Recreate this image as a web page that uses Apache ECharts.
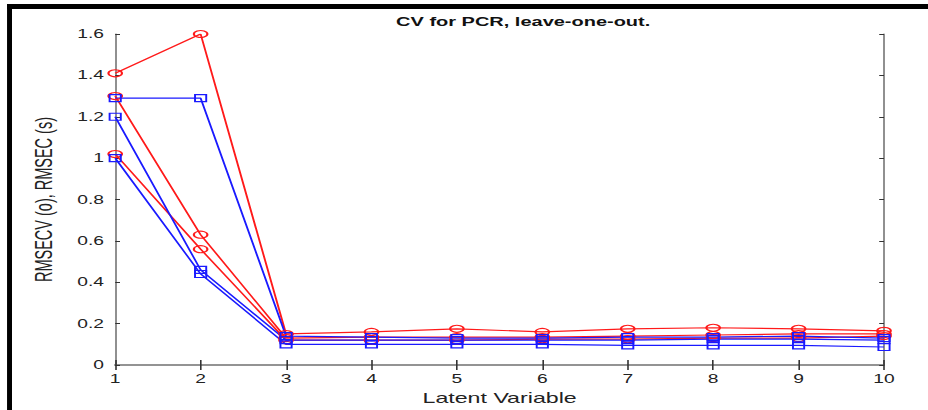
<!DOCTYPE html>
<html>
<head>
<meta charset="utf-8">
<script src="https://cdn.jsdelivr.net/npm/echarts@6/dist/echarts.min.js"></script>
<style>
  html, body { margin: 0; padding: 0; background: #fff; overflow: hidden; }
  /* 原图是被横向拉伸过的 MATLAB 图，这里先按窄宽度画，再整体横向拉伸 1.6 倍 */
  #chart { width: 580px; height: 410px; transform: scaleX(1.6); transform-origin: 0 0; }
</style>
</head>
<body>
<div id="chart"></div>
<script>
// 潜变量个数
const latentVars = ['1', '2', '3', '4', '5', '6', '7', '8', '9', '10']
// RMSECV (o) 红色圆圈
const cv1 = [1.41, 1.60, 0.15, 0.16, 0.175, 0.16, 0.175, 0.18, 0.175, 0.165]
const cv2 = [1.30, 0.63, 0.13, 0.135, 0.135, 0.135, 0.14, 0.145, 0.15, 0.15]
const cv3 = [1.02, 0.56, 0.12, 0.12, 0.12, 0.125, 0.125, 0.13, 0.13, 0.14]
// RMSEC (s) 蓝色方块
const c1 = [1.29, 1.29, 0.14, 0.135, 0.13, 0.13, 0.135, 0.135, 0.14, 0.13]
const c2 = [1.20, 0.46, 0.12, 0.12, 0.12, 0.12, 0.12, 0.125, 0.125, 0.12]
const c3 = [1.00, 0.44, 0.10, 0.10, 0.10, 0.10, 0.095, 0.095, 0.095, 0.087]

const axisGray = '#8c8c8c'
const font = 'Liberation Sans, Arial, sans-serif'

function toPairs(arr) {
  return arr.map((v, i) => [Number(latentVars[i]), v])
}

function makeSeries(name, data, color, symbol, size) {
  return {
    name: name,
    type: 'line',
    data: toPairs(data),
    symbol: symbol,
    symbolSize: size,
    showAllSymbol: true,
    lineStyle: { color: color, width: 1.2 },
    itemStyle: { color: 'rgba(0,0,0,0)', borderColor: color, borderWidth: 1.2 },
    animation: false,
    z: 3,
  }
}

const chart = echarts.init(document.getElementById('chart'), null, { renderer: 'svg' })
const option = {
  backgroundColor: '#fff',
  title: {
    text: 'CV for PCR, leave-one-out.',
    left: 322,
    textAlign: 'center',
    top: 10,
    textStyle: { fontFamily: font, fontSize: 12.5, fontWeight: 'bold', color: '#111' },
  },
  grid: { left: 72, right: 27.5, top: 34, bottom: 45 },
  xAxis: [
    {
      type: 'value',
      min: 1,
      max: 10,
      interval: 1,
      name: 'Latent Variable',
      nameLocation: 'middle',
      nameGap: 25,
      nameTextStyle: { fontFamily: font, fontSize: 14.5, color: '#222' },
      axisLine: { lineStyle: { color: axisGray, width: 1.5 } },
      axisTick: { inside: true, length: 5, lineStyle: { color: '#333' } },
      axisLabel: { fontFamily: font, fontSize: 12, color: '#222', margin: 8 },
      splitLine: { show: false },
    },
    {
      type: 'value',
      position: 'top',
      min: 1,
      max: 10,
      interval: 1,
      axisLine: { show: true, lineStyle: { color: axisGray, width: 1.5 } },
      axisTick: { inside: true, length: 5, lineStyle: { color: '#333' } },
      axisLabel: { show: false },
      splitLine: { show: false },
    },
  ],
  yAxis: [
    {
      type: 'value',
      min: 0,
      max: 1.6,
      interval: 0.2,
      name: 'RMSECV (o), RMSEC (s)',
      nameLocation: 'middle',
      nameGap: 37,
      nameTextStyle: { fontFamily: font, fontSize: 14.5, color: '#222' },
      axisLine: { show: true, lineStyle: { color: axisGray, width: 1.2 } },
      axisTick: { show: true, inside: true, length: 3, lineStyle: { color: '#333' } },
      axisLabel: {
        fontFamily: font,
        fontSize: 12,
        color: '#222',
        margin: 7,
        formatter: (v) => String(Math.round(v * 10) / 10),
      },
      splitLine: { show: false },
    },
    {
      type: 'value',
      position: 'right',
      min: 0,
      max: 1.6,
      interval: 0.2,
      axisLine: { show: true, lineStyle: { color: axisGray, width: 1.2 } },
      axisTick: { show: true, inside: true, length: 3, lineStyle: { color: '#333' } },
      axisLabel: { show: false },
      splitLine: { show: false },
    },
  ],
  graphic: [
    // 外框黑边（上、左）
    { type: 'rect', shape: { x: 4.4, y: 4, width: 580, height: 5 }, style: { fill: '#000' }, z: 10 },
    { type: 'rect', shape: { x: 4.4, y: 4, width: 3.1, height: 406 }, style: { fill: '#000' }, z: 10 },
  ],
  series: [
    makeSeries('cv1', cv1, '#ff1a1a', 'circle', [8.5, 7]),
    makeSeries('cv2', cv2, '#ff1a1a', 'circle', [8.5, 7]),
    makeSeries('cv3', cv3, '#ff1a1a', 'circle', [8.5, 7]),
    makeSeries('c1', c1, '#1a1aff', 'rect', [7, 7]),
    makeSeries('c2', c2, '#1a1aff', 'rect', [7, 7]),
    makeSeries('c3', c3, '#1a1aff', 'rect', [7, 7]),
  ],
}
chart.setOption(option)
window.onresize = chart.resize
</script>
</body>
</html>
